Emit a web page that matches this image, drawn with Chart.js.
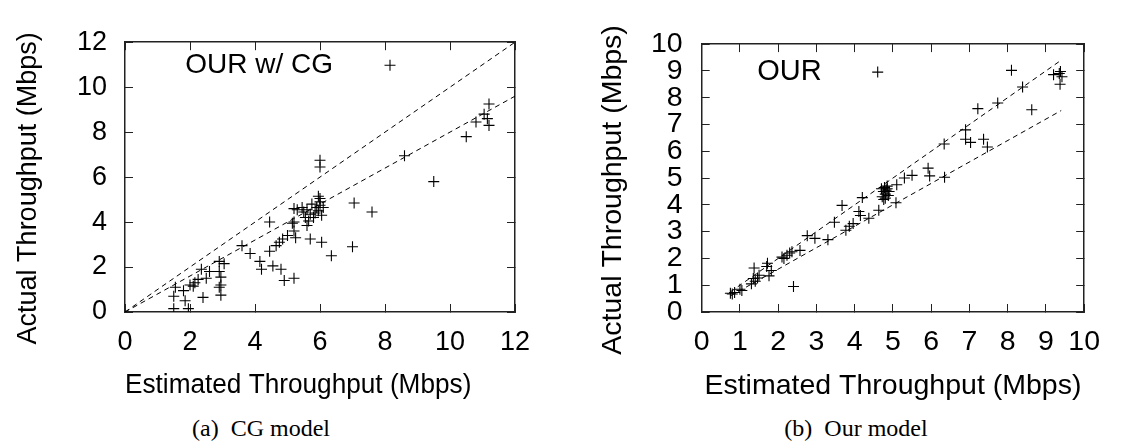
<!DOCTYPE html>
<html>
<head>
<meta charset="utf-8">
<script src="https://cdn.jsdelivr.net/npm/chart.js@4.4.0/dist/chart.umd.min.js"></script>
<style>
  body { margin: 0; background: #fff; }
  #wrap { position: relative; width: 1121px; height: 447px; overflow: hidden; }
  .panel { position: absolute; top: 0; }
  #left-panel { left: 0; }
  #right-panel { left: 560px; }
  .caption {
    position: absolute; top: 416px; line-height: 24px;
    font-family: 'Liberation Serif', 'Times New Roman', serif; font-size: 24px;
    color: #000; white-space: pre; transform: translateX(-50%);
  }
</style>
</head>
<body>
<div id="wrap">
  <div class="panel" id="left-panel"><canvas id="cg-chart" width="560" height="410"></canvas></div>
  <div class="panel" id="right-panel"><canvas id="our-chart" width="561" height="410"></canvas></div>
  <div class="caption" style="left:261px">(a)  CG model</div>
  <div class="caption" style="left:856px">(b)  Our model</div>
</div>
<script>
// (a) CG model: estimated vs actual throughput, Mbps
const cgEstimated = [1.5, 1.5, 1.55, 1.8, 1.85, 1.95, 2.0, 2.1, 2.15, 2.25,
    2.35, 2.4, 2.5, 2.6, 2.9, 3.05, 2.95, 2.9, 2.95, 2.95,
    2.9, 3.6, 3.85, 4.15, 4.2, 4.45, 4.45, 4.55, 4.65, 4.75,
    4.8, 4.85, 4.9, 5.2, 5.0, 5.15, 5.2, 5.25, 5.2, 5.7,
    6.05, 6.35, 7.0, 7.05, 7.6, 6.0, 6.0, 8.6, 9.5, 10.5,
    10.8, 11.05, 11.2, 11.15, 11.2, 5.2, 5.3, 5.5, 5.6, 5.7,
    5.65, 5.6, 5.8, 5.85, 5.9, 5.75, 6.1, 6.0, 6.0, 5.95,
    6.0, 5.95, 6.05, 5.55, 5.45];
const cgActual = [0.15, 0.7, 1.1, 0.95, 0.5, 0.15, 1.2, 1.15, 1.3, 1.45,
    1.9, 0.65, 1.5, 1.8, 2.25, 2.15, 1.55, 1.1, 1.2, 0.75,
    1.8, 2.95, 2.6, 2.25, 1.9, 4.0, 2.7, 2.05, 2.95, 3.1,
    1.9, 3.25, 1.4, 1.5, 3.4, 3.95, 3.6, 3.3, 4.0, 3.25,
    3.1, 2.5, 2.9, 4.85, 4.45, 6.75, 6.45, 6.95, 5.8, 7.8,
    8.45, 8.8, 9.25, 8.6, 8.3, 4.6, 4.55, 4.45, 4.55, 4.35,
    4.05, 3.85, 4.2, 4.4, 4.65, 4.8, 4.65, 5.05, 4.9, 5.15,
    4.75, 4.5, 4.3, 4.2, 4.65];
// dashed guides: y = x and y = 0.8x
const cgGuideX = [0, 12];
const cgIdealY = [0, 12];
const cgLowY = [0, 9.6];
const cgTicks = [0, 2, 4, 6, 8, 10, 12];

// (b) Our model
const ourEstimated = [0.75, 0.8, 0.86, 1.0, 1.05, 1.3, 1.35, 1.4, 1.37, 1.46,
    1.5, 1.7, 1.72, 1.76, 1.82, 2.1, 2.15, 2.23, 2.3, 2.36,
    2.4, 2.57, 2.76, 2.96, 3.3, 3.47, 3.67, 3.77, 3.86, 3.96,
    4.11, 4.15, 4.2, 4.37, 4.63, 4.72, 4.75, 4.78, 4.8, 4.82,
    4.85, 4.88, 4.76, 4.85, 4.9, 4.7, 4.8, 5.08, 5.1, 5.3,
    5.5, 5.92, 5.96, 6.34, 6.35, 6.9, 6.9, 7.03, 7.22, 7.37,
    7.47, 7.74, 8.1, 8.39, 8.63, 9.2, 9.38, 9.42, 9.37, 9.35];
const ourActual = [0.7, 0.67, 0.73, 0.85, 0.8, 1.05, 1.25, 1.15, 1.64, 1.27,
    1.37, 1.7, 1.82, 1.35, 1.55, 2.05, 2.0, 2.12, 2.2, 2.25,
    0.95, 2.3, 2.85, 2.75, 2.7, 3.35, 3.98, 3.05, 3.2, 3.3,
    3.75, 3.6, 4.27, 3.5, 3.8, 4.3, 4.5, 4.65, 4.4, 4.55,
    4.7, 4.35, 4.2, 4.6, 4.5, 4.6, 4.25, 4.08, 4.75, 5.0,
    5.1, 5.37, 5.08, 6.27, 5.03, 6.8, 6.45, 6.33, 7.59, 6.45,
    6.16, 7.8, 9.02, 8.4, 7.55, 8.86, 8.98, 8.78, 8.5, 8.9];
const ourGuideX = [0.75, 9.4];
const ourUpperY = [0.75, 9.4];
const ourLowerY = [0.6, 7.52];
const ourTicks = [0, 1, 2, 3, 4, 5, 6, 7, 8, 9, 10];

const FONT = "'Liberation Sans', Arial, Helvetica, sans-serif";

function zip(xs, ys) {
    return xs.map((x, i) => ({ x: x, y: ys[i] }));
}

// gnuplot style key: title text with the point sample to its right
const keyPlugin = {
    id: 'gnuplotKey',
    afterDatasetsDraw(chart, args, opts) {
        const { ctx, chartArea } = chart;
        const y = chartArea.top + opts.dy;
        ctx.save();
        ctx.font = opts.size + 'px ' + FONT;
        ctx.fillStyle = '#000';
        ctx.textAlign = 'right';
        ctx.textBaseline = 'middle';
        ctx.fillText(chart.data.datasets[0].label, chartArea.left + opts.textRight, y);
        ctx.strokeStyle = '#000';
        ctx.lineWidth = 1.1;
        Chart.helpers.drawPoint(ctx, { pointStyle: 'cross', radius: 5.5, borderWidth: 1.1, rotation: 0 },
            chartArea.left + opts.sampleX, y);
        ctx.restore();
    }
};

function guide(xs, ys) {
    return {
        data: zip(xs, ys),
        showLine: true,
        borderColor: '#000',
        borderWidth: 1,
        borderDash: [5, 4],
        pointRadius: 0,
        fill: false
    };
}

function makeScales(p) {
    const frame = { display: true, color: '#222', width: 1.5 };
    const inward = { drawOnChartArea: false, drawTicks: true, tickLength: -8, color: '#222', lineWidth: 1 };
    const setTicks = axis => { axis.ticks = p.ticks.map(v => ({ value: v })); };
    const font = { family: FONT, size: p.fontSize };
    return {
        x: {
            type: 'linear', position: 'bottom', min: p.min, max: p.max,
            afterBuildTicks: setTicks,
            afterFit: s => { s.height = p.xHeight; },
            border: frame, grid: inward,
            ticks: { font: font, color: '#000', padding: p.xTickPad, maxRotation: 0, autoSkip: false },
            title: { display: true, text: p.xTitle, color: '#000', font: font, padding: { top: 0, bottom: p.xTitlePad } }
        },
        xTop: {
            type: 'linear', position: 'top', min: p.min, max: p.max,
            afterBuildTicks: setTicks,
            afterFit: s => { s.height = 0; },
            border: frame, grid: inward,
            ticks: { display: false }
        },
        y: {
            type: 'linear', position: 'left', min: p.min, max: p.max,
            afterBuildTicks: setTicks,
            afterFit: s => { s.width = p.yWidth; },
            border: frame, grid: inward,
            ticks: { font: font, color: '#000', padding: p.yTickPad, autoSkip: false },
            title: { display: true, text: p.yTitle, color: '#000', font: font, padding: { top: p.yTitlePad, bottom: 0 } }
        },
        yRight: {
            type: 'linear', position: 'right', min: p.min, max: p.max,
            afterBuildTicks: setTicks,
            afterFit: s => { s.width = 0; },
            border: frame, grid: inward,
            ticks: { display: false }
        }
    };
}

function makeChart(canvas, p) {
    return new Chart(canvas.getContext('2d'), {
        type: 'scatter',
        data: {
            datasets: [
                {
                    label: p.label,
                    data: zip(p.est, p.act),
                    pointStyle: 'cross',
                    pointRadius: 5.5,
                    pointBorderWidth: 1.1,
                    borderColor: '#000',
                    backgroundColor: '#000'
                },
                guide(p.guideX, p.guideA),
                guide(p.guideX, p.guideB)
            ]
        },
        options: {
            responsive: false,
            animation: false,
            events: [],
            layout: { padding: { top: 35, right: p.padRight, left: 0, bottom: 0 } },
            scales: makeScales(p),
            plugins: {
                legend: { display: false },
                tooltip: { enabled: false },
                gnuplotKey: p.key
            }
        },
        plugins: [keyPlugin]
    });
}

const cgCanvas = document.querySelector('#cg-chart');
const ourCanvas = document.querySelector('#our-chart');

makeChart(cgCanvas, {
    label: 'OUR w/ CG',
    est: cgEstimated, act: cgActual,
    guideX: cgGuideX, guideA: cgIdealY, guideB: cgLowY,
    ticks: cgTicks, min: 0, max: 12,
    fontSize: 27,
    xTitle: 'Estimated Throughput (Mbps)\u00a0\u00a0\u00a0\u00a0\u00a0\u00a0',
    yTitle: 'Actual Throughput (Mbps)\u00a0\u00a0\u00a0',
    xHeight: 98, yWidth: 125, padRight: 45,
    xTickPad: 22, yTickPad: 26, xTitlePad: 8, yTitlePad: 12,
    key: { size: 28, dy: 23, textRight: 208, sampleX: 265 }
});

makeChart(ourCanvas, {
    label: 'OUR',
    est: ourEstimated, act: ourActual,
    guideX: ourGuideX, guideA: ourUpperY, guideB: ourLowerY,
    ticks: ourTicks, min: 0, max: 10,
    fontSize: 28.5,
    xTitle: 'Estimated Throughput (Mbps)',
    yTitle: 'Actual Throughput (Mbps)\u00a0\u00a0\u00a0',
    xHeight: 98, yWidth: 141.7, padRight: 30,
    xTickPad: 21, yTickPad: 27, xTitlePad: 7, yTitlePad: 36,
    key: { size: 29, dy: 28, textRight: 120, sampleX: 176 }
});
</script>
</body>
</html>
